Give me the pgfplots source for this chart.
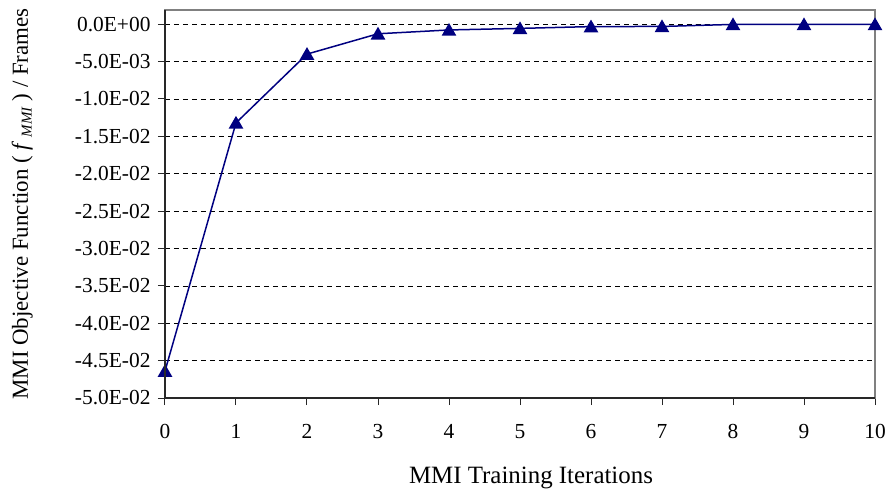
\documentclass[border=0pt]{standalone}
\usepackage{pgfplots}
\pgfplotsset{compat=1.18}
\usepackage{fontspec}
\setmainfont{Liberation Serif}
\definecolor{navyline}{RGB}{0,0,128}
\definecolor{frametop}{RGB}{128,128,128}
\definecolor{framedark}{RGB}{40,40,40}
\begin{document}
\begin{tikzpicture}
\path[use as bounding box] (-165bp,-96bp) rectangle (725bp,398bp);
\begin{axis}[
  scale only axis,
  width=710bp, height=388bp,
  at={(0,0)}, anchor=south west,
  xmin=0, xmax=10, ymin=-0.05, ymax=0.0019,
  xtick={0,1,2,3,4,5,6,7,8,9,10},
  ytick={-0.05,-0.045,-0.04,-0.035,-0.03,-0.025,-0.02,-0.015,-0.01,-0.005,0},
  yticklabels={-5.0E-02,-4.5E-02,-4.0E-02,-3.5E-02,-3.0E-02,-2.5E-02,-2.0E-02,-1.5E-02,-1.0E-02,-5.0E-03,0.0E+00},
  scaled y ticks=false,
  xtick pos=bottom, ytick pos=left,
  tick align=outside,
  major tick length=7bp,
  tick style={framedark, line width=1bp},
  ymajorgrids,
  major grid style={black, line width=0.7bp, dash pattern=on 5bp off 4bp},
  axis line style={frametop, line width=1.2bp},
  ticklabel style={font=\fontsize{21.5}{25}\selectfont},
  xticklabel style={yshift=-16bp},
  yticklabel style={xshift=-4bp},
  /pgf/number format/assume math mode=true,
  xticklabel={\pgfmathprintnumber[assume math mode=true]{\tick}},
  xlabel={MMI Training Iterations},
  xlabel style={font=\fontsize{25}{29}\selectfont, at={(axis description cs:0.5155,-0.2191)}, anchor=base},
  ylabel={MMI Objective Function ( \textit{f}\,\raisebox{-0.35ex}{\fontsize{15}{15}\selectfont\textit{MMI}} ) / Frames},
  ylabel style={font=\fontsize{23}{27}\selectfont, at={(axis description cs:-0.193,0.5)}, anchor=base, rotate=0},
  clip=false,
  after end axis/.code={
    \draw[framedark, line width=1.5bp] (rel axis cs:0,1) -- (rel axis cs:0,0) -- (rel axis cs:1,0);
  },
]
\addplot[navyline, line width=1.5bp, mark=triangle*, mark size=7bp,
  mark options={fill=navyline, draw=navyline, yshift=-1.5bp}]
  coordinates {
  (0,-0.0464)
  (1,-0.0132)
  (2,-0.0040)
  (3,-0.00128)
  (4,-0.00077)
  (5,-0.00056)
  (6,-0.00032)
  (7,-0.00030)
  (8,-0.00003)
  (9,-0.00003)
  (10,-0.00003)
  };
\end{axis}
\end{tikzpicture}
\end{document}
